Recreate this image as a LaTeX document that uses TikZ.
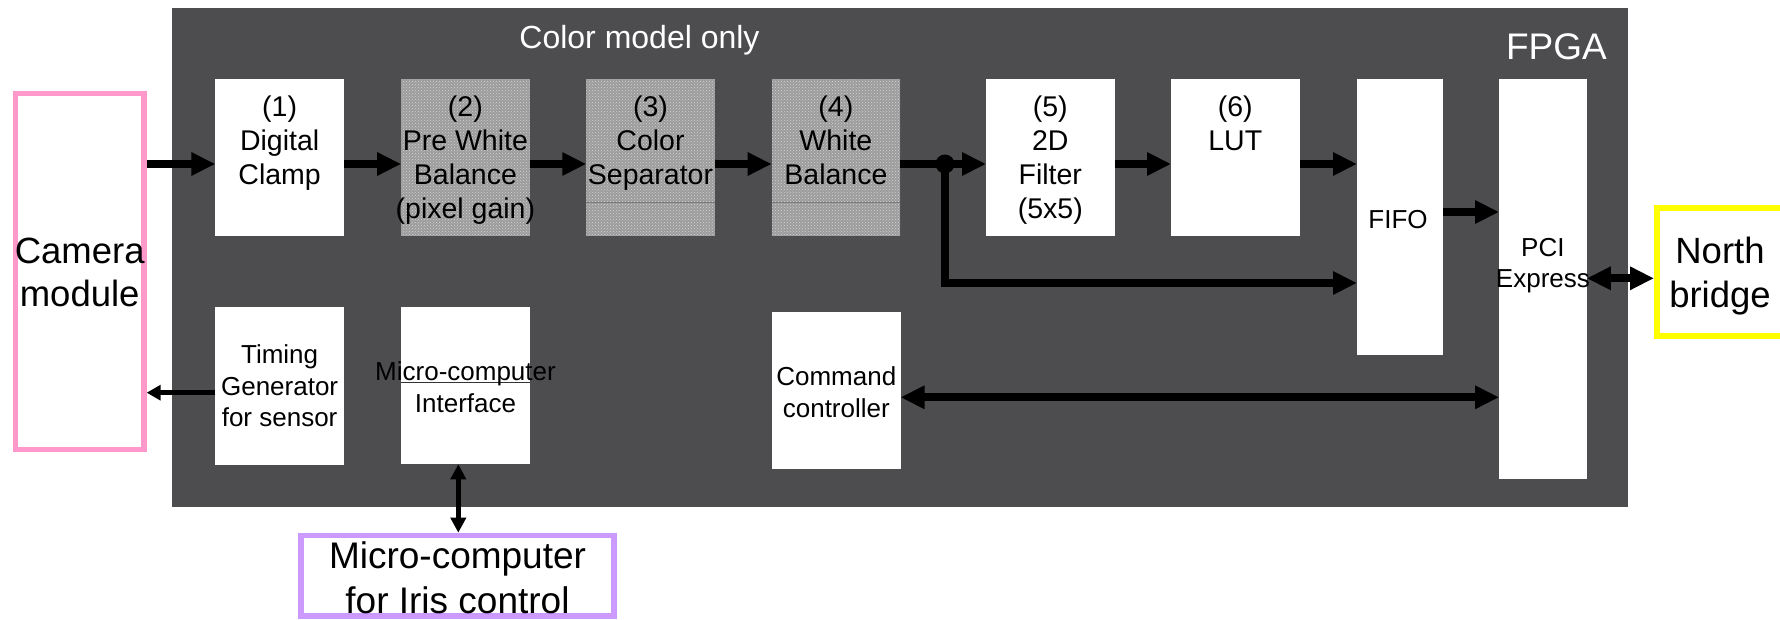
\documentclass[tikz,border=0pt]{standalone}
\usepackage{fontspec}
\setmainfont{Liberation Sans}
\usetikzlibrary{arrows.meta,patterns}

\definecolor{fpgabg}{HTML}{4D4D50}
\definecolor{campink}{HTML}{FF99CC}
\definecolor{nbyellow}{HTML}{FFFF00}
\definecolor{irislilac}{HTML}{CC99FF}
\definecolor{dithergray}{HTML}{9C9C9C}
\definecolor{ditherlight}{HTML}{D4D4D4}
\definecolor{rulegray}{HTML}{7A7A7A}

\newcommand{\fsz}[2]{\fontsize{#1pt}{#2pt}\selectfont}

\begin{document}
\begin{tikzpicture}[x=1pt,y=-1pt,
  block/.style={rectangle, fill=white, inner sep=0pt, outer sep=0pt},
  topblock/.style={block, minimum width=128.5pt, minimum height=156.4pt},
  lowblock/.style={block, minimum width=128.5pt, minimum height=157.5pt},
  ditherblock/.style={topblock, fill=dithergray,
      postaction={pattern=crosshatch dots, pattern color=ditherlight}},
  extbox/.style={rectangle, fill=white, inner sep=0pt},
  bigtext/.style={anchor=north, align=center, inner sep=0pt, font=\fsz{28.5}{34}},
  smalltext/.style={anchor=north, align=center, inner sep=0pt, font=\fsz{26}{31.7}},
  exttext/.style={anchor=north, align=center, inner sep=0pt},
  sepline/.style={draw=rulegray, line width=1pt},
  bigarrow/.style={line width=8pt, -{Triangle[length=24pt,width=22pt]}},
  bigboth/.style={line width=8pt, {Triangle[length=24pt,width=22pt]}-{Triangle[length=24pt,width=22pt]}},
  thinarrow/.style={line width=5pt, -{Triangle[length=14pt,width=15pt]}},
  thinboth/.style={line width=5pt, {Triangle[length=15pt,width=15pt]}-{Triangle[length=15pt,width=15pt]}},
]
\useasboundingbox (0,0) rectangle (1780,620);

% FPGA area
\node[rectangle, fill=fpgabg, inner sep=0pt, outer sep=0pt, anchor=north west,
      minimum width=1456pt, minimum height=499pt] (fpga) at (172,8) {};
\node[anchor=base, text=white, inner sep=0pt, font=\fsz{32}{38}] (colonly) at (639.5,48.3) {Color model only};
\node[anchor=base east, text=white, inner sep=0pt, font=\fsz{37}{44}] (fpganame) at (1607,60) {FPGA};

% external devices
\node[extbox, draw=campink, line width=5.5pt, minimum width=128.5pt, minimum height=356pt] (cam) at (79.7,271.5) {};
\node[exttext, font=\fsz{36.5}{43}] (camtxt) at (79.7,237.6) {Camera\\module};

\node[extbox, draw=nbyellow, line width=6pt, minimum width=126pt, minimum height=127.7pt] (nb) at (1720,271.85) {};
\node[exttext, font=\fsz{36.5}{43.4}] (nbtxt) at (1720,237.2) {North\\bridge};

\node[extbox, draw=irislilac, line width=5.7pt, minimum width=313.3pt, minimum height=80.6pt] (iris) at (457.5,575.85) {};
\node[exttext, font=\fsz{37}{45}] (iristxt) at (457.5,541.5) {Micro-computer\\for Iris control};

% processing pipeline
\node[topblock] (b1) at (279.6,157.5) {};
\node[ditherblock] (b2) at (465.4,157.5) {};
\node[ditherblock] (b3) at (650.5,157.5) {};
\node[ditherblock] (b4) at (835.9,157.5) {};
\node[topblock] (b5) at (1050.3,157.5) {};
\node[topblock] (b6) at (1235.3,157.5) {};
\node[block, minimum width=86pt, minimum height=275.7pt] (fifo) at (1400,217.2) {};
\node[block, minimum width=87.7pt, minimum height=399.7pt] (pci) at (1542.9,279.2) {};

\draw[sepline] ([yshift=33.4pt]b3.south west) -- ([yshift=33.4pt]b3.south east);
\draw[sepline] ([yshift=33.4pt]b4.south west) -- ([yshift=33.4pt]b4.south east);

% control blocks
\node[lowblock] (tg) at (279.6,385.8) {};
\node[lowblock] (mci) at (465.5,385.5) {};
\node[lowblock] (cmd) at (836.3,390.3) {};
\draw[draw=black!80, line width=1pt] ([yshift=82pt]mci.south west) -- ([yshift=82pt]mci.south east);

% block texts
\node[bigtext] (t1) at (b1.center |- 0,95.6) {(1)\\Digital\\Clamp};
\node[bigtext] (t2) at (b2.center |- 0,95.6) {(2)\\Pre White\\Balance\\(pixel gain)};
\node[bigtext] (t3) at (b3.center |- 0,95.6) {(3)\\Color\\Separator};
\node[bigtext] (t4) at (b4.center |- 0,95.6) {(4)\\White\\Balance};
\node[bigtext] (t5) at (b5.center |- 0,95.6) {(5)\\2D\\Filter\\(5x5)};
\node[bigtext] (t6) at (b6.center |- 0,95.6) {(6)\\LUT};
\node[anchor=base, inner sep=0pt, font=\fsz{26}{31.7}] (tfifo) at (1398,228.3) {FIFO};
\node[smalltext, font=\fsz{26}{31.3}] (tpci) at (pci.center |- 0,238.1) {PCI\\Express};
\node[smalltext] (ttg) at (tg.center |- 0,344.4) {Timing\\Generator\\for sensor};
\node[smalltext] (tmci) at (mci.center |- 0,361.4) {Micro-computer\\Interface};
\node[smalltext] (tcmd) at (cmd.center |- 0,366.4) {Command\\controller};

% data path
\coordinate (row) at (0,164);
\coordinate (tappt) at (945,164);
\coordinate (bend) at (945,283);
\draw[bigarrow] (cam.east |- row) -- (b1.west |- row);
\draw[bigarrow] (b1.east |- row) -- (b2.west |- row);
\draw[bigarrow] (b2.east |- row) -- (b3.west |- row);
\draw[bigarrow] (b3.east |- row) -- (b4.west |- row);
\draw[line width=8pt] (b4.east |- row) -- (tappt);
\draw[bigarrow] (tappt) -- (b5.west |- row);
\draw[bigarrow, line join=miter] (tappt) -- (bend) -- (bend -| fifo.west);
\node[circle, fill=black, inner sep=0pt, minimum size=19pt] (tap) at (tappt) {};
\draw[bigarrow] (b5.east |- row) -- (b6.west |- row);
\draw[bigarrow] (b6.east |- row) -- (fifo.west |- row);
\coordinate (fifoout) at (0,212);
\draw[bigarrow] (fifo.east |- fifoout) -- (pci.west |- fifoout);
\coordinate (nbrow) at (0,278.3);
\draw[bigboth] (pci.east |- nbrow) -- (nb.west |- nbrow);

% control path
\coordinate (cmdrow) at (0,397.3);
\draw[bigboth] (cmd.east |- cmdrow) -- (pci.west |- cmdrow);
\coordinate (tgrow) at (0,392.7);
\draw[thinarrow] (tg.west |- tgrow) -- (cam.east |- tgrow);
\coordinate (irisx) at (458.3,0);
\draw[thinboth] (mci.south -| irisx) -- (iris.north -| irisx);
\end{tikzpicture}
\end{document}
